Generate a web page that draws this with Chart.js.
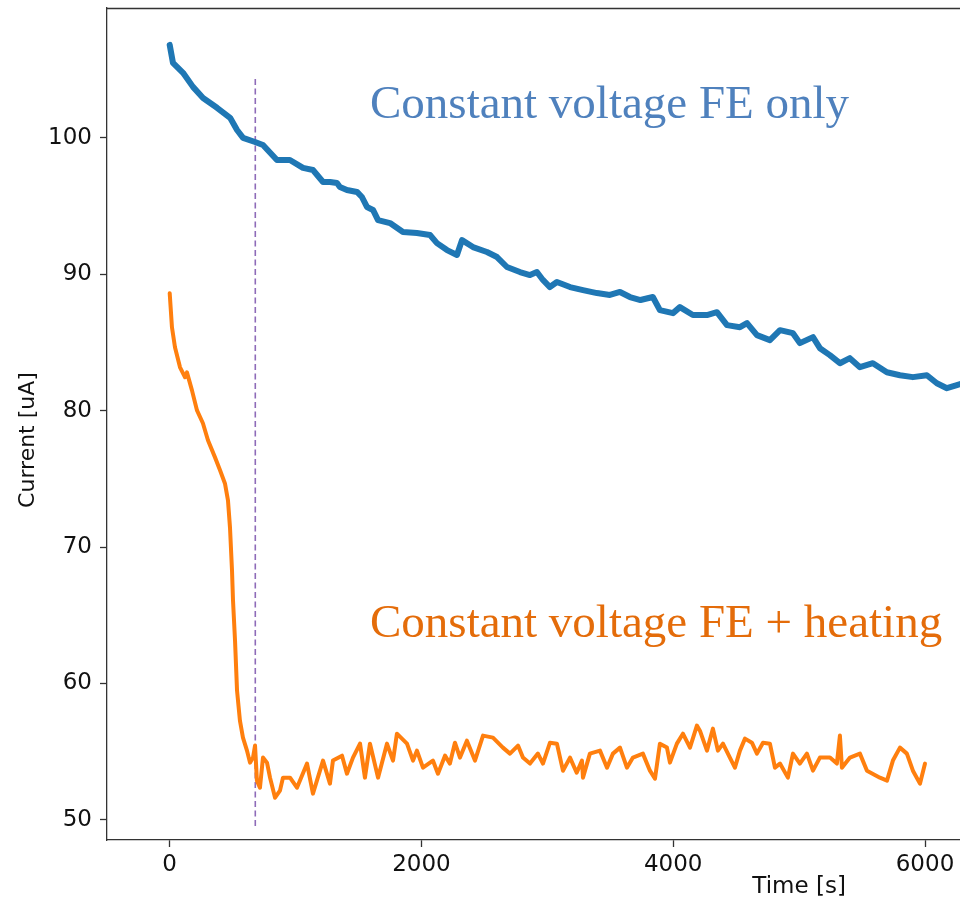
<!DOCTYPE html>
<html>
<head>
<meta charset="utf-8">
<script src="https://cdn.jsdelivr.net/npm/chart.js@4/dist/chart.umd.min.js"></script>
<style>
  html, body { margin: 0; padding: 0; background: #fff; overflow: hidden; }
  #wrap { width: 960px; height: 905px; position: relative; }
</style>
</head>
<body>
<div id="wrap"><canvas id="c" width="960" height="905"></canvas></div>
<script>
// ---- data ----
const blueTime = [0,26,106,185,265,376,480,535,583,678,741,852,955,1059,1138,1218,1274,1329,1352,1408,1488,1527,1567,1615,1655,1750,1853,1964,2068,2123,2203,2282,2322,2409,2520,2600,2679,2782,2862,2917,2965,3020,3076,3180,3283,3394,3497,3577,3656,3740,3838,3894,3998,4053,4156,4268,4347,4427,4530,4586,4665,4768,4848,4951,5006,5110,5165,5244,5324,5403,5483,5586,5697,5801,5904,6015,6094,6174,6253,6300];
const blueCurrent = [106.80,105.48,104.75,103.72,102.91,102.19,101.45,100.56,99.98,99.68,99.46,98.36,98.36,97.78,97.63,96.75,96.75,96.67,96.38,96.16,96.02,95.65,94.92,94.70,93.96,93.74,93.08,93.01,92.86,92.27,91.76,91.40,92.49,91.98,91.62,91.25,90.52,90.15,89.93,90.15,89.57,89.05,89.42,89.05,88.83,88.61,88.47,88.69,88.32,88.10,88.32,87.36,87.14,87.58,87.00,87.00,87.21,86.26,86.11,86.41,85.53,85.16,85.89,85.67,84.94,85.38,84.57,84.06,83.47,83.84,83.18,83.47,82.81,82.59,82.45,82.59,82.00,81.64,81.86,82.00];

const orangeTime = [0,18,42,82,122,137,177,217,264,304,360,400,439,463,479,495,503,519,535,558,582,614,638,662,678,693,717,741,773,797,837,876,900,
 956,1011,1091,1138,1218,1273,1297,1369,1408,1456,1512,1551,1591,1655,1726,1774,1805,1885,1933,1964,2012,2091,2131,2187,2226,2266,2306,2361,2425,2489,2568,2647,2703,2767,2806,2862,2925,2965,3021,3076,3124,3180,3233,3275,3283,3338,3418,3474,3521,3577,3632,3680,3759,3815,3855,3894,3950,3974,4029,4077,4133,4188,4212,4268,4315,4355,4395,4450,4490,4530,4570,4625,4665,4713,4768,4808,4848,4911,4951,5006,5062,5110,5165,5245,5300,5324,5340,5404,5483,5539,5642,5698,5745,5801,5856,5904,5960,6000];
const orangeCurrent = [88.60,86.10,84.64,83.17,82.44,82.80,81.48,80.01,79.07,77.82,76.57,75.62,74.66,73.42,71.43,68.28,66.08,63.14,59.48,57.28,56.03,55.08,54.20,54.57,55.45,52.88,52.36,54.57,54.20,53.10,51.63,52.15,53.10,
 53.10,52.36,54.13,51.93,54.35,52.66,54.35,54.71,53.39,54.57,55.59,53.10,55.59,53.10,55.59,54.35,56.32,55.59,54.35,55.08,53.83,54.35,53.39,54.71,54.13,55.66,54.57,55.81,54.35,56.18,56.03,55.30,54.86,55.45,54.57,54.13,54.86,54.13,55.66,55.59,53.61,54.57,53.46,54.35,53.10,54.86,55.08,53.83,54.86,55.30,53.83,54.57,54.86,53.61,53.02,55.59,55.30,54.20,55.59,56.32,55.30,56.91,56.54,55.08,56.69,55.08,55.59,54.57,53.83,55.08,55.96,55.66,54.86,55.66,55.59,53.83,54.13,53.10,54.86,54.13,54.86,53.61,54.57,54.57,54.13,56.18,53.83,54.57,54.86,53.61,53.10,52.88,54.35,55.30,54.86,53.61,52.66,54.13];

const markerTime = 680;
const markerSpan = [104.3, 49.35];

const xTicks = [0, 2000, 4000, 6000];
const yTicks = [50, 60, 70, 80, 90, 100];

const xLabel = 'Time [s]';
const yLabel = 'Current [uA]';
const blueNote = 'Constant voltage FE only';
const orangeNote = 'Constant voltage FE + heating';

// ---- build chart ----
const toPts = (xs, ys) => xs.map((x, i) => ({ x: x, y: ys[i] }));

const TICK_FONT = { family: 'DejaVu Sans', size: 23 };

const decor = {
  id: 'decor',
  afterDraw(chart) {
    const { ctx, chartArea, scales } = chart;
    ctx.save();
    // top frame
    ctx.strokeStyle = '#333';
    ctx.lineWidth = 1.3;
    ctx.beginPath();
    ctx.moveTo(chartArea.left, chartArea.top + 0.5);
    ctx.lineTo(chartArea.right, chartArea.top + 0.5);
    ctx.stroke();
    // axis titles
    ctx.fillStyle = '#111';
    ctx.font = '23px "DejaVu Sans"';
    ctx.textAlign = 'center';
    ctx.textBaseline = 'middle';
    ctx.fillText(xLabel, scales.x.getPixelForValue(5000), 887);
    ctx.font = '22px "DejaVu Sans"';
    ctx.save();
    ctx.translate(28, 440);
    ctx.rotate(-Math.PI / 2);
    ctx.fillText(yLabel, 0, 0);
    ctx.restore();
    // annotations
    ctx.textAlign = 'left';
    ctx.textBaseline = 'alphabetic';
    ctx.font = '47px "Liberation Serif"';
    ctx.fillStyle = '#4f81bd';
    ctx.fillText(blueNote, 370, 118);
    ctx.fillStyle = '#e46c0a';
    ctx.fillText(orangeNote, 370, 637);
    ctx.restore();
  }
};

new Chart(document.getElementById('c'), {
  type: 'line',
  data: {
    datasets: [
      {
        data: toPts(blueTime, blueCurrent),
        borderColor: '#1f77b4',
        borderWidth: 6,
        pointRadius: 0,
        tension: 0,
        borderJoinStyle: 'round',
        borderCapStyle: 'round'
      },
      {
        data: toPts(orangeTime, orangeCurrent),
        borderColor: '#ff7f0e',
        borderWidth: 4,
        pointRadius: 0,
        tension: 0,
        borderJoinStyle: 'round',
        borderCapStyle: 'round'
      },
      {
        data: markerSpan.map(v => ({ x: markerTime, y: v })),
        borderColor: '#8e6bb8',
        borderWidth: 1.6,
        borderDash: [6, 3.5],
        pointRadius: 0
      }
    ]
  },
  options: {
    responsive: false,
    animation: false,
    devicePixelRatio: 1,
    layout: { padding: { top: 8, left: 0, right: 0, bottom: 0 } },
    plugins: { legend: { display: false }, tooltip: { enabled: false } },
    scales: {
      x: {
        type: 'linear',
        min: -498,
        max: 6278,
        afterFit(s) { s.height = 65; s.paddingLeft = 0; s.paddingRight = 0; },
        afterBuildTicks(s) { s.ticks = xTicks.map(v => ({ value: v })); },
        grid: { drawOnChartArea: false, drawTicks: true, tickLength: 7, color: '#333', tickWidth: 1.3 },
        border: { display: true, color: '#333', width: 1.3 },
        ticks: { font: TICK_FONT, color: '#111', padding: 4, maxRotation: 0, callback: v => String(v) }
      },
      y: {
        type: 'linear',
        min: 48.53,
        max: 109.5,
        afterFit(s) { s.width = 107; s.paddingTop = 0; s.paddingBottom = 0; },
        afterBuildTicks(s) { s.ticks = yTicks.map(v => ({ value: v })); },
        grid: { drawOnChartArea: false, drawTicks: true, tickLength: 7, color: '#333', tickWidth: 1.3 },
        border: { display: true, color: '#333', width: 1.3 },
        ticks: { font: TICK_FONT, color: '#111', padding: 8, callback: v => String(v) }
      }
    }
  },
  plugins: [decor]
});
</script>
</body>
</html>
